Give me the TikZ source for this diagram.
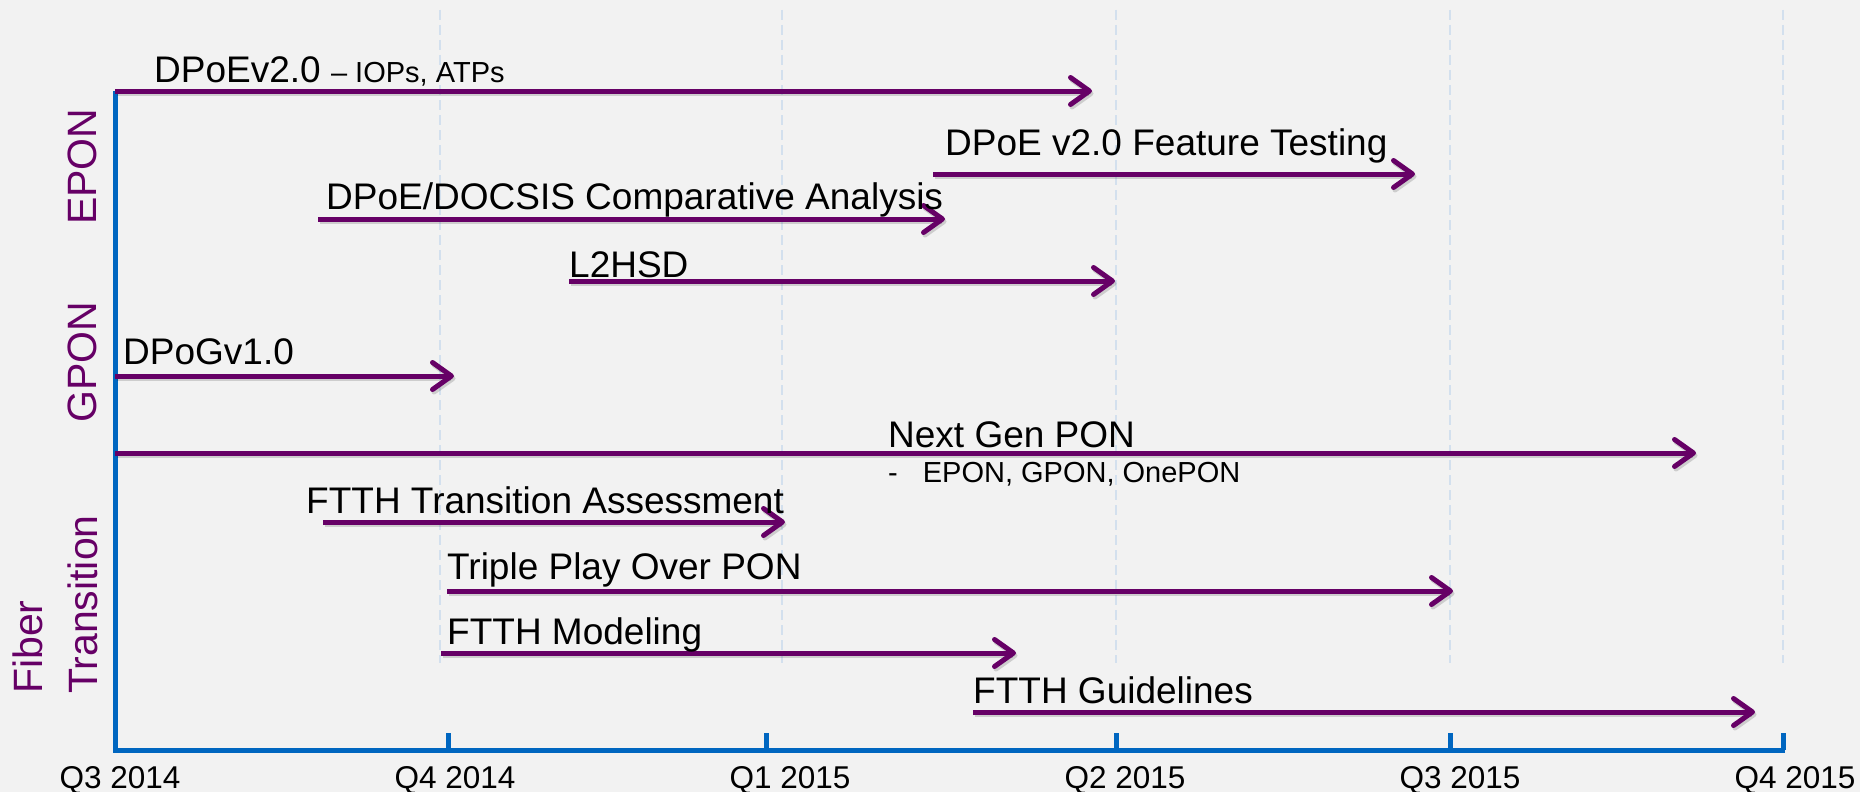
\documentclass[tikz,border=0pt]{standalone}
\usepackage{fontspec}
\setmainfont{Liberation Sans}
\usetikzlibrary{arrows.meta}
\definecolor{bgc}{HTML}{F2F2F2}
\definecolor{axc}{HTML}{0066C0}
\definecolor{purc}{HTML}{660066}
\definecolor{grdc}{HTML}{D3E0EE}
\begin{document}
\begin{tikzpicture}[x=1pt,y=-1pt,
  gridln/.style={grdc, line width=2pt, dash pattern=on 10pt off 5pt},
  axisln/.style={axc, line width=5pt, line join=miter},
  tickln/.style={axc, line width=5pt},
  task/.style={purc, line width=5pt,
    -{Straight Barb[length=19pt,width=27pt,round]},
    preaction={draw=black, opacity=0.15, line width=5pt,
      transform canvas={xshift=1.5pt,yshift=-2.5pt}}},
  lbl/.style={anchor=base west, inner sep=0pt, font=\fontsize{37}{44}\selectfont},
  sublbl/.style={anchor=base west, inner sep=0pt, font=\fontsize{29}{34}\selectfont},
  qlab/.style={anchor=base, inner sep=0pt, font=\fontsize{31.5}{37}\selectfont},
  cat/.style={anchor=base west, inner sep=0pt, rotate=90, text=purc, font=\fontsize{41}{48}\selectfont}
]
\fill[bgc] (0,0) rectangle (1860,792);
\useasboundingbox (0,0) rectangle (1860,792);

% grid lines
\foreach \gx in {440,782,1116,1450,1783} \draw[gridln] (\gx,10) -- (\gx,663);

% axes
\coordinate (ytop) at (115,91);
\coordinate (orig) at (115,750);
\coordinate (xend) at (1785,750);
\draw[axisln] (ytop) -- (orig) -- (xend);
\foreach \tx in {115,448,766,1116,1450,1783} \draw[tickln] (\tx,733) -- (\tx,750);

% quarter labels
\node[qlab] (q1) at (120,788) {Q3 2014};
\node[qlab] (q2) at (455,788) {Q4 2014};
\node[qlab] (q3) at (790,788) {Q1 2015};
\node[qlab] (q4) at (1125,788) {Q2 2015};
\node[qlab] (q5) at (1460,788) {Q3 2015};
\node[qlab] (q6) at (1795,788) {Q4 2015};

% category labels
\node[cat] (epon) at (96,225) {EPON};
\node[cat] (gpon) at (96,423) {GPON};
\node[cat] (fib) at (42,694) {Fiber};
\node[cat] (trans) at (97,694) {Transition};

% tasks
\coordinate (a1) at (115,91);  \coordinate (b1) at (1092,91);
\coordinate (a2) at (933,174); \coordinate (b2) at (1415,174);
\coordinate (a3) at (318,219); \coordinate (b3) at (945,219);
\coordinate (a4) at (569,281); \coordinate (b4) at (1115,281);
\coordinate (a5) at (115,376); \coordinate (b5) at (454,376);
\coordinate (a6) at (115,453); \coordinate (b6) at (1696,453);
\coordinate (a7) at (323,522); \coordinate (b7) at (785,522);
\coordinate (a8) at (447,591); \coordinate (b8) at (1453,591);
\coordinate (a9) at (441,653); \coordinate (b9) at (1016,653);
\coordinate (a10) at (973,712); \coordinate (b10) at (1755,712);
\foreach \i in {1,...,10} \draw[task] (a\i) -- (b\i);

\node[lbl] (t1) at (154,82) {DPoEv2.0 {\fontsize{29}{34}\selectfont – IOPs, ATPs}};
\node[lbl] (t2) at (945,155) {DPoE v2.0 Feature Testing};
\node[lbl] (t3) at (326,209) {DPoE/DOCSIS Comparative Analysis};
\node[lbl] (t4) at (569,277) {L2HSD};
\node[lbl] (t5) at (123,364) {DPoGv1.0};
\node[lbl] (t6) at (888,447) {Next Gen PON};
\node[sublbl] (t6b) at (888,482) {-\hskip 25pt EPON, GPON, OnePON};
\node[lbl] (t7) at (306,513) {FTTH Transition Assessment};
\node[lbl] (t8) at (447,579) {Triple Play Over PON};
\node[lbl] (t9) at (447,644) {FTTH Modeling};
\node[lbl] (t10) at (973,703) {FTTH Guidelines};
\end{tikzpicture}
\end{document}
